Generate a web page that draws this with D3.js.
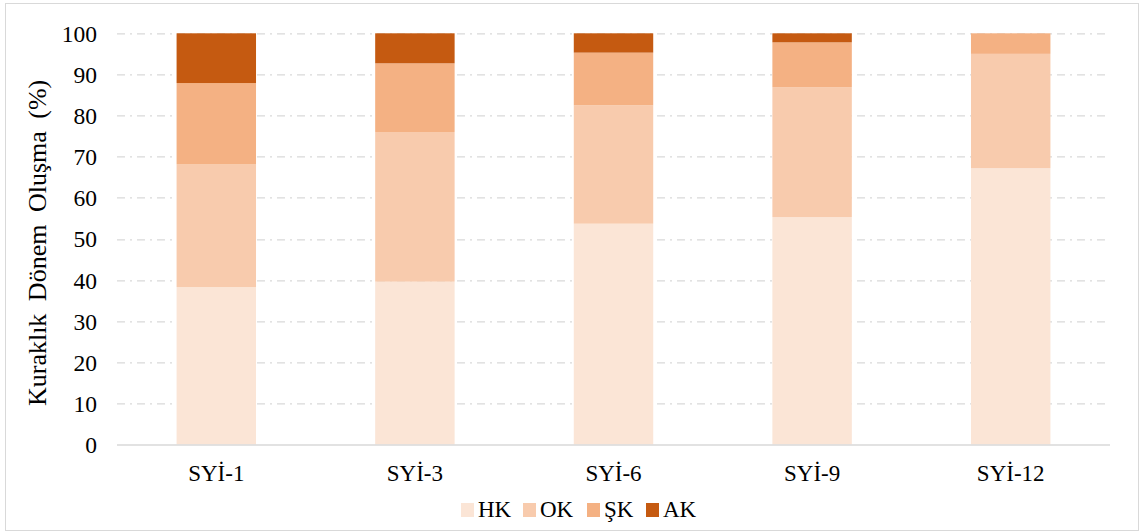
<!DOCTYPE html>
<html>
<head>
<meta charset="utf-8">
<script src="https://cdn.jsdelivr.net/npm/d3@7/dist/d3.min.js"></script>
<style>
  html, body { margin: 0; padding: 0; background: #fff; }
  svg { display: block; }
  svg text { font-family: "Times New Roman", "Liberation Serif", "DejaVu Serif", serif !important; }
</style>
</head>
<body>
<div id="chart"></div>
<script>
const categories = ['SYİ-1', 'SYİ-3', 'SYİ-6', 'SYİ-9', 'SYİ-12'];
const seriesNames = ['HK', 'OK', 'ŞK', 'AK'];
const hk = [38.3, 39.6, 53.7, 55.3, 67.2];
const ok = [29.9, 36.4, 28.8, 31.6, 27.8];
const sk = [19.7, 16.7, 12.8, 10.9, 5.0];
const ak = [12.1, 7.3, 4.7, 2.2, 0.0];
const yTicks = [0, 10, 20, 30, 40, 50, 60, 70, 80, 90, 100];

const colors = ['#FBE5D6', '#F8CBAD', '#F4B183', '#C55A11'];

const W = 1141, H = 532;
const margin = { top: 33.3, right: 31, bottom: 87.5, left: 117 };
const width = W - margin.left - margin.right;
const height = H - margin.top - margin.bottom;

const rows = categories.map((c, i) => ({ cat: c, HK: hk[i], OK: ok[i], 'ŞK': sk[i], AK: ak[i] }));
const stack = d3.stack().keys(seriesNames)(rows);

const svg = d3.select('#chart').append('svg')
  .attr('width', W).attr('height', H);

// outer frame
svg.append('rect')
  .attr('x', 5.5).attr('y', 3.5).attr('width', W - 8).attr('height', H - 5)
  .attr('fill', 'none').attr('stroke', '#D9D9D9').attr('stroke-width', 1);

const g = svg.append('g').attr('transform', `translate(${margin.left},${margin.top})`);

const x = d3.scaleBand().domain(categories).range([0, width]).paddingInner(0.6).paddingOuter(0.3);
const y = d3.scaleLinear().domain([0, 100]).range([height, 0]);

// gridlines
g.append('g')
  .selectAll('line')
  .data(yTicks.filter(t => t > 0))
  .enter().append('line')
  .attr('x1', 0).attr('x2', width)
  .attr('y1', d => Math.round(y(d)) + 0.5).attr('y2', d => Math.round(y(d)) + 0.5)
  .attr('stroke', '#D9D9D9').attr('stroke-width', 1.2)
  .attr('stroke-dasharray', '8,5,2,5');

// bars
g.selectAll('.series')
  .data(stack)
  .enter().append('g')
  .attr('class', 'series')
  .attr('fill', (d, i) => colors[i])
  .selectAll('rect')
  .data(d => d)
  .enter().append('rect')
  .attr('x', d => x(d.data.cat))
  .attr('y', d => y(d[1]))
  .attr('width', x.bandwidth())
  .attr('height', d => y(d[0]) - y(d[1]));

// baseline
g.append('line')
  .attr('x1', 0).attr('x2', width)
  .attr('y1', height + 0.5).attr('y2', height + 0.5)
  .attr('stroke', '#D9D9D9').attr('stroke-width', 1.5);

// y axis labels
const yAxis = g.append('g')
  .call(d3.axisLeft(y).tickValues(yTicks).tickSize(0).tickPadding(20));
yAxis.select('.domain').remove();
yAxis.selectAll('text')
  .attr('font-size', 23.5).attr('fill', '#000')
  .attr('dy', '0.34em');

// x axis labels
const xAxis = g.append('g')
  .attr('transform', `translate(0,${height})`)
  .call(d3.axisBottom(x).tickSize(0));
xAxis.select('.domain').remove();
xAxis.selectAll('text')
  .attr('font-size', 23).attr('fill', '#000')
  .attr('y', 36).attr('dy', 0);

// y axis title
svg.append('text')
  .attr('transform', `translate(46,${margin.top + height / 2 + 4}) rotate(-90)`)
  .attr('text-anchor', 'middle')
  .attr('font-size', 26).attr('fill', '#000')
  .attr('word-spacing', 6)
  .text('Kuraklık Dönem Oluşma (%)');

// legend
const legendX = [461, 523, 587, 646];
const legend = svg.append('g').attr('transform', 'translate(0,503)');
const items = legend.selectAll('g')
  .data(seriesNames)
  .enter().append('g')
  .attr('transform', (d, i) => `translate(${legendX[i]},0)`);
items.append('rect')
  .attr('width', 13).attr('height', 14)
  .attr('fill', (d, i) => colors[i]);
items.append('text')
  .attr('x', 17).attr('y', 14)
  .attr('font-size', 23).attr('fill', '#000')
  .text(d => d);
</script>
</body>
</html>
